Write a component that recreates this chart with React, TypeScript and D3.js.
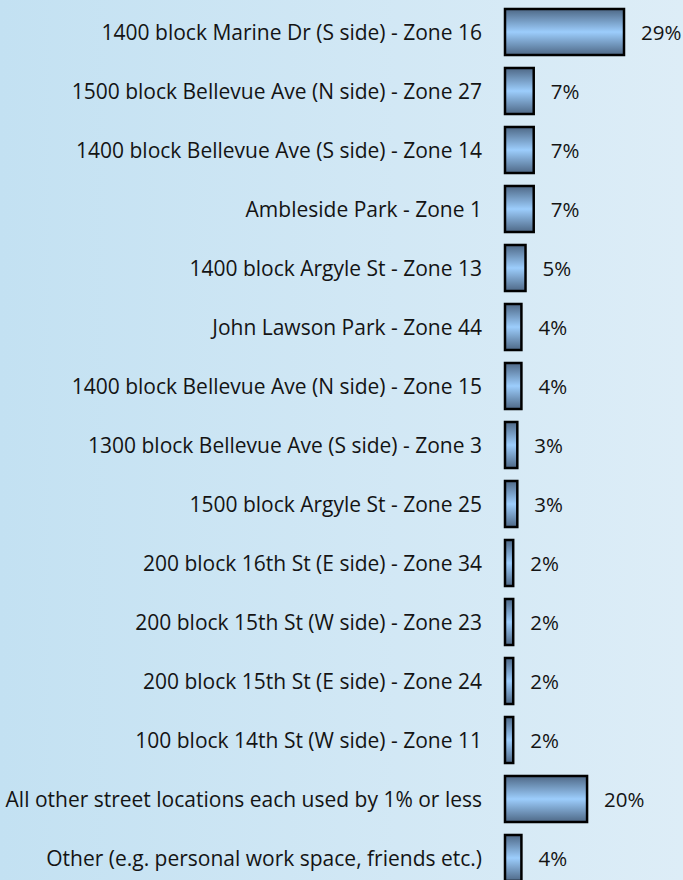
import React from "react";
import * as d3 from "d3";

const categories = [
  "1400 block Marine Dr (S side) - Zone 16",
  "1500 block Bellevue Ave (N side) - Zone 27",
  "1400 block Bellevue Ave (S side) - Zone 14",
  "Ambleside Park - Zone 1",
  "1400 block Argyle St - Zone 13",
  "John Lawson Park - Zone 44",
  "1400 block Bellevue Ave (N side) - Zone 15",
  "1300 block Bellevue Ave (S side) - Zone 3",
  "1500 block Argyle St - Zone 25",
  "200 block 16th St (E side) - Zone 34",
  "200 block 15th St (W side) - Zone 23",
  "200 block 15th St (E side) - Zone 24",
  "100 block 14th St (W side) - Zone 11",
  "All other street locations each used by 1% or less",
  "Other (e.g. personal work space, friends etc.)",
];
const values = [29, 7, 7, 7, 5, 4, 4, 3, 3, 2, 2, 2, 2, 20, 4];

const W = 683;
const H = 880;

export default function App() {
  const y = d3
    .scaleBand<string>()
    .domain(categories)
    .range([2.5, 2.5 + 59 * categories.length])
    .paddingInner(0.22)
    .paddingOuter(0.11);
  const x = d3.scaleLinear().domain([0, 29]).range([505, 624]);
  const font = "'Open Sans', sans-serif";
  return (
    <svg
      width={W}
      height={H}
      style={{ position: "absolute", left: 0, top: 0 }}
      fontFamily={font}
    >
      <defs>
        <linearGradient id="bg" x1="0" y1="0" x2="1" y2="0">
          <stop offset="0" stopColor="#c3e1f2" />
          <stop offset="1" stopColor="#ddedf7" />
        </linearGradient>
        <linearGradient id="bar" x1="0" y1="0" x2="0" y2="1">
          <stop offset="0" stopColor="#4e6886" />
          <stop offset="0.5" stopColor="#9ccdfc" />
          <stop offset="1" stopColor="#4e6886" />
        </linearGradient>
      </defs>
      <rect x={0} y={0} width={W} height={H} fill="url(#bg)" />
      {categories.map((c, i) => {
        const y0 = y(c)!;
        const bh = y.bandwidth();
        const cy = y0 + bh / 2;
        return (
          <g key={c}>
            <rect
              x={x(0)}
              y={y0}
              width={x(values[i]) - x(0)}
              height={bh}
              fill="url(#bar)"
              stroke="#000"
              strokeWidth={2.5}
            />
            <text
              x={482}
              y={cy}
              textAnchor="end"
              dominantBaseline="central"
              fontSize={21}
              fill="#141414"
            >
              {c}
            </text>
            <text
              x={x(values[i]) + 17}
              y={cy}
              dominantBaseline="central"
              fontSize={20.5}
              fill="#141414"
            >
              {values[i] + "%"}
            </text>
          </g>
        );
      })}
    </svg>
  );
}
